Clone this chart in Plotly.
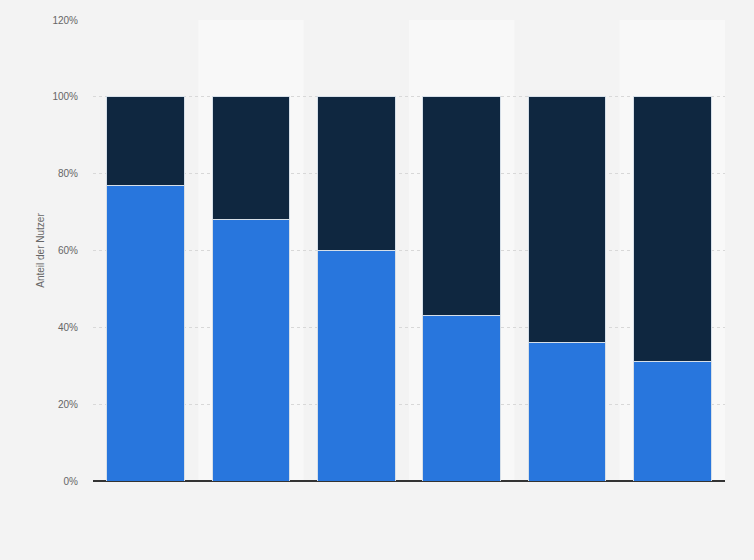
import plotly.graph_objects as go

categories = ["1", "2", "3", "4", "5", "6"]
share_blue = [77, 68, 60, 43, 36, 31]
share_dark = [23, 32, 40, 57, 64, 69]
tick_vals = [0, 20, 40, 60, 80, 100, 120]
tick_text = ["0%", "20%", "40%", "60%", "80%", "100%", "120%"]

BG = "#f3f3f3"
BAND = "#f8f8f8"
OUTLINE = "#d6dfe8"

fig = go.Figure()
fig.add_trace(go.Bar(
    x=categories, y=share_blue, name="Ja",
    marker=dict(color="#2876dd", line=dict(color=OUTLINE, width=1)),
    width=0.74, hoverinfo="y",
))
fig.add_trace(go.Bar(
    x=categories, y=share_dark, name="Nein",
    marker=dict(color="#0f2740", line=dict(color=OUTLINE, width=1)),
    width=0.74, hoverinfo="y",
))

# alternating column bands behind the bars
for i in range(1, len(categories), 2):
    fig.add_shape(
        type="rect", xref="x", yref="y",
        x0=i - 0.5, x1=i + 0.5, y0=0, y1=tick_vals[-1],
        fillcolor=BAND, line_width=0, layer="below",
    )

fig.update_layout(
    barmode="stack",
    width=754, height=560,
    paper_bgcolor=BG, plot_bgcolor=BG,
    margin=dict(l=93, r=29, t=20, b=79),
    showlegend=False,
    font=dict(family="Liberation Sans, Arial, sans-serif", size=10, color="#666666"),
    xaxis=dict(
        showticklabels=False, showgrid=False, ticks="",
        range=[-0.5, len(categories) - 0.5],
    ),
    yaxis=dict(
        range=[0, 120], tickvals=tick_vals, ticktext=tick_text,
        showgrid=True, gridcolor="#d8d8d8", griddash="dot", gridwidth=1,
        zeroline=True, zerolinecolor="#333333", zerolinewidth=1.5,
        title=dict(text="Anteil der Nutzer", font=dict(size=10, color="#666666"), standoff=5),
        ticklabelstandoff=14,
    ),
)

# drop the default page margin so the chart sits flush in the window
fig.write_html(
    "out.html",
    config={"displayModeBar": False},
    post_script="document.body.style.margin='0';document.body.style.background='#f3f3f3';",
)
